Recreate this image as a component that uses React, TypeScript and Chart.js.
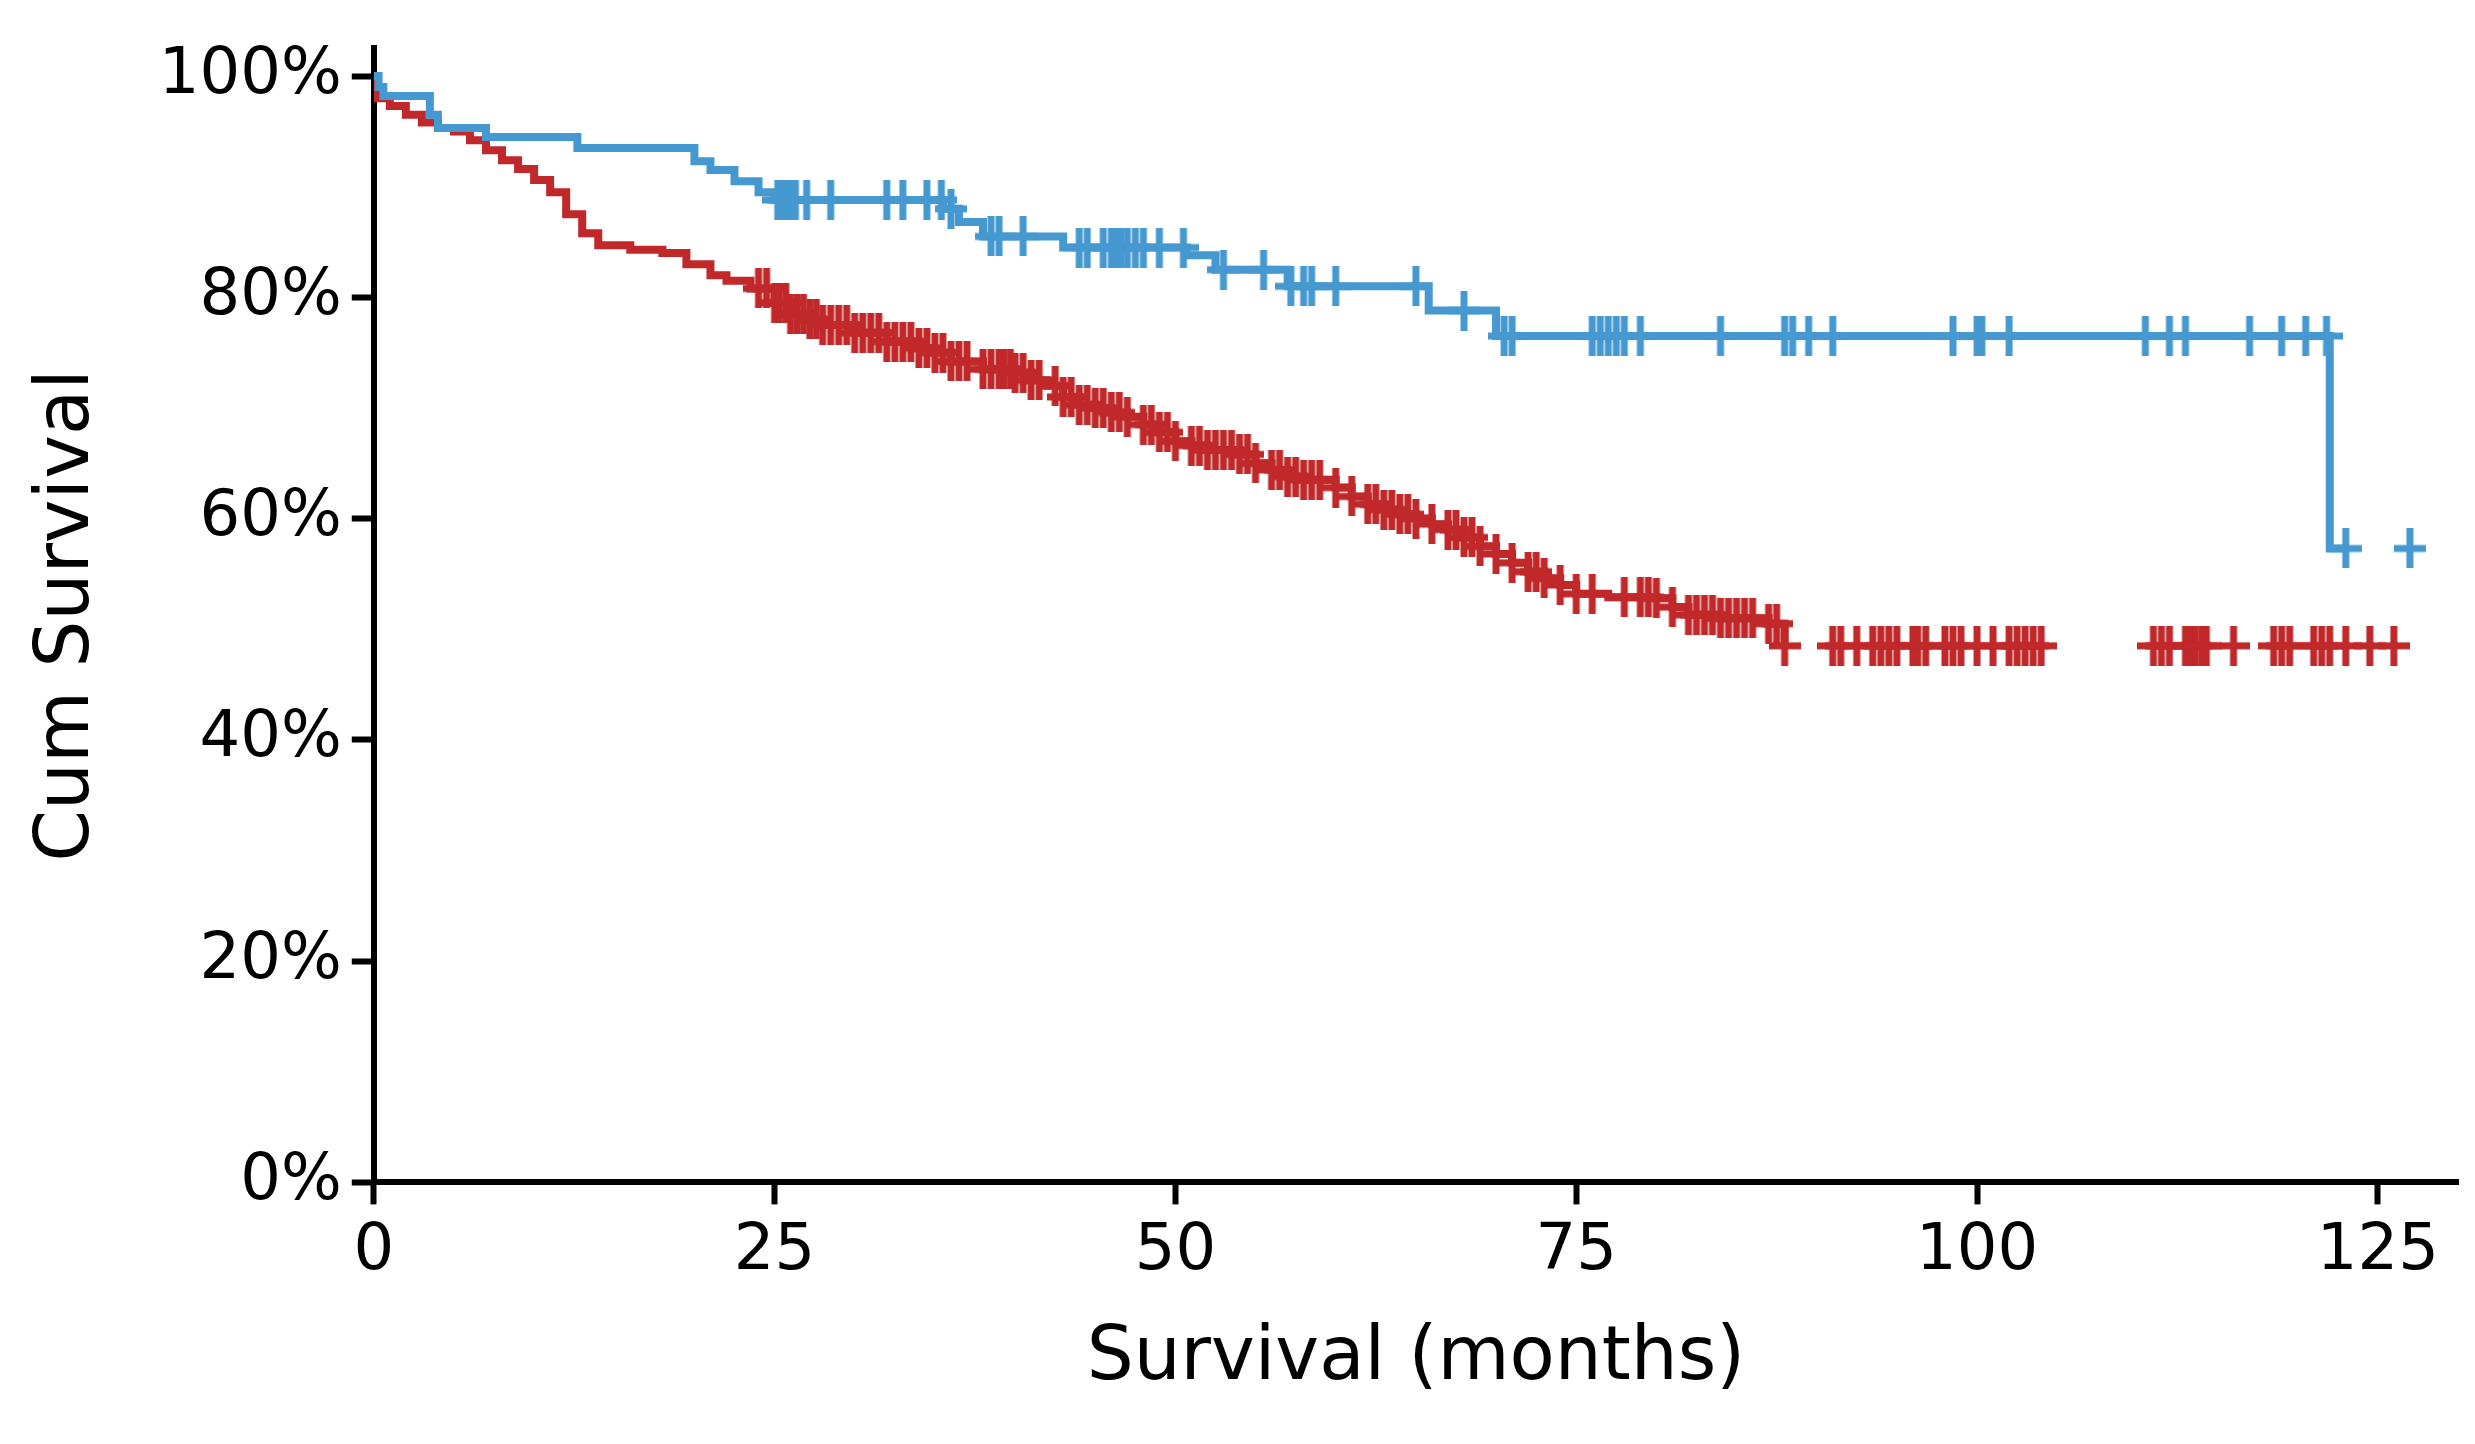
import React, { useEffect, useRef } from "react";
import { Chart, registerables } from "chart.js";
Chart.register(...registerables);

const blueT = [0, 0.3, 0.6, 3.5, 4, 7, 12.7, 20, 21, 22.5, 24, 25, 35.5, 36.5, 38, 43, 50.7, 52.5, 57, 65.8, 70, 122, 123];
const blueS = [100, 99, 98.2, 96.5, 95.3, 94.5, 93.5, 92.3, 91.5, 90.5, 89.5, 88.8, 88, 86.8, 85.5, 84.5, 83.8, 82.5, 81, 78.8, 76.5, 57.3, 57.3];
const blueCensor = [25.2, 25.5, 25.8, 26, 26.3, 27, 28.5, 32, 33, 34.5, 35.4, 36, 38.5, 39, 40.5, 44, 44.5, 45.5, 46, 46.3, 46.6, 47, 47.5, 48, 49, 50.5, 53, 55.5, 57.2, 58, 58.5, 60, 65, 68, 70.5, 71, 76, 76.5, 77, 77.5, 78, 79, 84, 88, 88.5, 89.5, 91, 98.5, 100, 100.3, 102, 110.5, 112, 113, 117, 119, 120.5, 121.8, 123, 127];

const redT = [0, 0.2, 1, 2, 3, 4, 5, 6, 7, 8, 9, 10, 11, 12, 13, 14, 16, 18, 19.5, 21, 22, 23.5, 25, 26, 27, 28, 30, 32, 34, 35, 36, 38, 40, 41, 42, 43, 44, 45, 46, 47, 48, 49, 50, 51, 52, 54, 55, 56, 57, 58, 60, 61, 62, 63, 64, 65, 66, 67, 68, 69, 70, 71, 72, 73, 74, 75, 77, 80, 81, 82, 84, 87, 88];
const redS = [100, 98, 97.3, 96.5, 95.8, 95.3, 95, 94.2, 93.3, 92.4, 91.6, 90.6, 89.5, 87.5, 85.8, 84.7, 84.3, 84, 83, 82, 81.5, 80.8, 79.5, 78.5, 78, 77.5, 76.8, 76, 75.4, 75, 74.2, 73.5, 73.2, 72.5, 72, 71, 70.3, 70, 69.6, 69.2, 68.5, 67.8, 67, 66.6, 66.2, 65.8, 65, 64.4, 63.8, 63.5, 62.8, 62, 61.3, 60.8, 60.4, 60, 59.5, 59, 58.3, 57.5, 56.8, 56, 55.2, 54.6, 54, 53.2, 52.9, 52.8, 52, 51.3, 51, 50.5, 48.5];
const redCensor = [24, 24.5, 25, 25.3, 25.7, 26, 26.4, 26.8, 27.2, 27.6, 28, 28.5, 29, 29.5, 30, 30.5, 31, 31.5, 32, 32.5, 33, 33.5, 34, 34.5, 35, 35.5, 36, 36.5, 37, 38, 38.5, 39, 39.3, 39.7, 40, 40.5, 41, 41.5, 42.5, 43, 43.5, 44, 44.5, 45, 45.5, 46, 46.5, 47, 48, 48.5, 49, 49.5, 50, 51, 51.5, 52, 52.5, 53, 53.5, 54, 54.5, 55, 56, 56.5, 57, 57.5, 58, 58.5, 59, 60, 61, 62, 62.5, 63, 63.5, 64, 64.5, 65, 66, 67, 67.5, 68, 68.5, 69, 70, 71, 72, 72.5, 73, 74, 75, 76, 78, 79, 79.5, 80, 81, 82, 82.5, 83, 83.5, 84, 84.5, 85, 85.5, 86, 87, 87.5, 88, 91, 91.5, 92.5, 93.5, 94, 94.5, 95, 96, 96.3, 96.8, 98, 98.5, 99, 100, 101, 102, 102.5, 103, 103.5, 104, 111, 111.5, 112, 113, 113.3, 113.6, 114, 114.3, 116, 118.5, 119, 119.5, 121, 121.5, 122, 123, 124.5, 126];

const xTicks = [0, 25, 50, 75, 100, 125];
const yTicks = [0, 20, 40, 60, 80, 100];

const BLUE = "#4599d0";
const RED = "#c0282a";

function lookup(ts: number[], ss: number[], t: number) {
  let v = ss[0];
  for (let i = 0; i < ts.length; i++) if (ts[i] <= t) v = ss[i];
  return v;
}

function crossImg(color: string) {
  const c = document.createElement("canvas");
  c.width = 32;
  c.height = 40;
  const g = c.getContext("2d")!;
  g.fillStyle = color;
  g.fillRect(12.5, 0, 7, 40);
  g.fillRect(0, 16.5, 32, 7);
  return c;
}

export default function App() {
  const ref = useRef<HTMLCanvasElement>(null);
  useEffect(() => {
    const font = "'DejaVu Sans'";
    const chart = new Chart(ref.current!, {
      type: "scatter",
      data: {
        datasets: [
          {
            type: "line",
            data: blueT.map((t, i) => ({ x: t, y: blueS[i] })),
            borderColor: BLUE,
            borderWidth: 8,
            stepped: "before",
            pointRadius: 0,
            fill: false,
          },
          {
            type: "line",
            data: redT.map((t, i) => ({ x: t, y: redS[i] })),
            borderColor: RED,
            borderWidth: 8,
            stepped: "before",
            pointRadius: 0,
            fill: false,
          },
          {
            data: blueCensor.map((t) => ({ x: t, y: lookup(blueT, blueS, t) })),
            pointStyle: crossImg(BLUE) as any,
            pointRadius: 16,
          },
          {
            data: redCensor.map((t) => ({ x: t, y: lookup(redT, redS, t) })),
            pointStyle: crossImg(RED) as any,
            pointRadius: 16,
          },
        ] as any,
      },
      options: {
        animation: false,
        responsive: false,
        events: [],
        layout: { padding: { left: 20, top: 28, right: 12, bottom: 36 } },
        plugins: { legend: { display: false }, tooltip: { enabled: false } },
        scales: {
          x: {
            type: "linear",
            min: 0,
            max: 130,
            afterBuildTicks: (s: any) => { s.ticks = xTicks.map((v) => ({ value: v })); },
            ticks: { color: "#000", font: { family: font, size: 64 }, padding: 10 },
            grid: { drawOnChartArea: false, drawTicks: true, tickLength: 22, tickWidth: 6, tickColor: "#000" },
            border: { display: true, width: 6, color: "#000" },
            title: { display: true, text: "Survival (months)", color: "#000", font: { family: font, size: 74 }, padding: { top: 14 } },
          },
          y: {
            min: 0,
            max: 102.5,
            afterBuildTicks: (s: any) => { s.ticks = yTicks.map((v) => ({ value: v })); },
            ticks: { color: "#000", font: { family: font, size: 64 }, padding: 10, callback: (v: any) => v + "%" },
            grid: { drawOnChartArea: false, drawTicks: true, tickLength: 22, tickWidth: 6, tickColor: "#000" },
            border: { display: true, width: 6, color: "#000" },
            title: { display: true, text: "Cum Survival", color: "#000", font: { family: font, size: 74 }, padding: { bottom: 36 } },
          },
        },
      } as any,
    });
    return () => chart.destroy();
  }, []);
  return (
    <div style={{ position: "absolute", left: 0, top: 0, width: 2475, height: 1444, background: "#fff" }}>
      <canvas ref={ref} width={2475} height={1444} style={{ width: 2475, height: 1444 }} />
    </div>
  );
}
